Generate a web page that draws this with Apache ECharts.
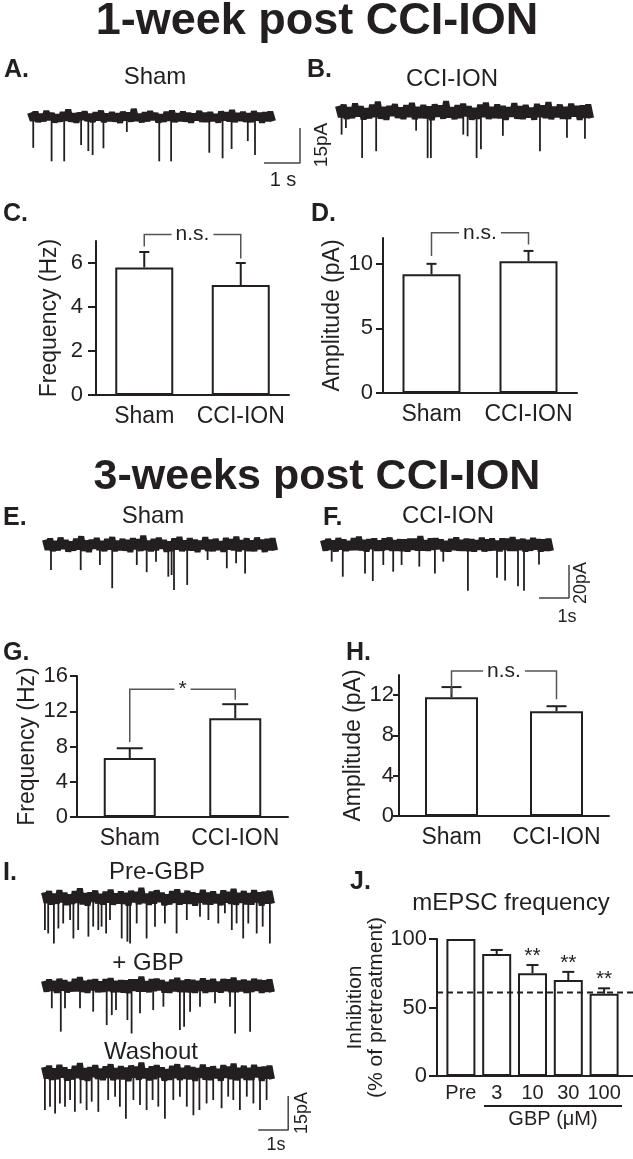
<!DOCTYPE html>
<html><head><meta charset="utf-8">
<script src="https://cdn.jsdelivr.net/npm/echarts@6/dist/echarts.min.js"></script>
<style>html,body{margin:0;padding:0;background:#fff}#c{width:633px;height:1159px}</style>
</head><body><div id="c"></div>
<script>
// ---------------- DATA ----------------
const barCats = ['Sham', 'CCI-ION'];
const freq1wMean = [5.8, 5.0];
const freq1wSem  = [0.7, 1.0];
const amp1wMean  = [9.2, 10.2];
const amp1wSem   = [0.8, 0.8];
const freq3wMean = [6.7, 11.2];
const freq3wSem  = [1.1, 1.6];
const amp3wMean  = [11.8, 10.4];
const amp3wSem   = [1.0, 0.5];
const ticksC = [0, 2, 4, 6];
const ticksD = [0, 5, 10];
const ticksG = [0, 4, 8, 12, 16];
const ticksH = [0, 4, 8, 12];
const sigC = ['n.s.', 7.3, 6.75, 6.2];   // text, bracket top, left foot, right foot
const sigD = ['n.s.', 12.4, 10.6, 11.5];
const sigG = ['*', 14.5, 8.5, 13.3];
const sigH = ['n.s.', 14.4, 12.1, 11.6];

const gbpCats = ['Pre', '3', '10', '30', '100'];
const gbpMean = [100, 89, 75, 70, 60];
const gbpSem  = [0, 3, 6, 6, 4];
const gbpSig  = ['', '', '**', '**', '**'];
const gbpRefLevel = 61;
const ticksJ = [0, 50, 100];

// spikes: [time (s), amplitude (pA)]
const spikesA = [[0.09,13.2],[0.60,19.0],[0.95,19.0],[1.42,12.0],[1.62,14.6],[1.74,16.3],[2.04,13.4],[2.69,6.4],
  [3.59,19.0],[3.92,19.0],[4.98,15.3],[5.35,17.7],[5.60,13.7],[6.05,10.3],[6.25,16.3]];
const spikesB = [[0.10,9.7],[0.22,6.9],[0.67,19.7],[1.06,16.8],[2.17,8.0],[2.49,19.7],[2.58,19.7],[3.48,9.7],
  [3.60,10.4],[3.85,19.7],[3.97,16.0],[4.58,10.2],[5.61,16.8],[6.36,11.0],[6.86,11.5]];
const spikesE = [[0.20,15.2],[1.19,15.2],[1.83,12.1],[2.24,26.2],[3.06,12.1],[3.39,16.5],[3.70,10.1],[4.11,19.2],
  [4.22,18.2],[4.30,27.3],[4.74,24.2],[5.42,9.1],[6.06,14.1],[6.37,11.1],[6.67,17.2]];
const spikesF = [[0.29,10.1],[0.66,19.2],[1.40,17.2],[1.66,21.8],[2.01,12.1],[2.34,16.2],[2.62,12.1],[3.21,13.1],
  [3.73,17.2],[4.01,10.1],[4.83,27.8],[5.80,19.9],[6.07,21.5],[6.50,25.0],[6.70,27.8],[7.20,11.8]];
const spikesPre = [[0.03,14.1],[0.14,15.6],[0.33,20.0],[0.48,13.4],[0.64,11.2],[0.87,9.7],[0.98,17.8],[1.14,14.1],
  [1.48,17.0],[1.64,12.6],[1.81,14.1],[1.92,12.6],[2.07,15.6],[2.20,9.7],[2.59,17.8],[2.78,19.2],[2.87,20.0],
  [3.09,11.2],[3.42,17.8],[3.70,12.6],[4.03,11.2],[4.42,15.6],[4.76,9.7],[5.20,8.2],[5.48,9.7],[5.81,11.2],
  [6.03,6.7],[6.26,14.1],[6.42,11.2],[6.64,17.8],[6.81,11.2],[7.09,15.6],[7.29,12.6],[7.53,20.0]];
const spikesGbp = [[0.26,9.8],[0.56,20.1],[0.70,9.8],[1.20,9.8],[1.64,11.3],[2.09,17.2],[2.26,12.8],[2.40,10.6],
  [2.78,15.0],[2.92,20.9],[3.20,12.0],[3.64,10.6],[3.98,9.1],[4.53,19.4],[4.67,17.9],[4.87,11.3],[5.20,9.1],
  [5.70,7.6],[6.20,9.1],[6.37,20.9],[6.87,20.1]];
const spikesWash = [[0.03,16.3],[0.20,14.8],[0.37,17.8],[0.53,13.4],[0.70,14.8],[0.87,11.9],[1.03,17.1],[1.22,13.4],
  [1.42,16.3],[1.59,12.6],[1.81,17.1],[2.14,11.9],[2.37,10.4],[2.53,14.8],[2.73,20.1],[2.98,11.9],[3.20,14.1],
  [3.42,16.3],[3.62,11.9],[3.81,14.8],[4.03,20.1],[4.31,11.9],[4.53,10.4],[4.76,14.8],[4.98,18.6],[5.18,16.3],
  [5.42,13.4],[5.64,11.9],[5.92,15.5],[6.14,10.4],[6.31,11.9],[6.53,16.3],[6.76,10.4],[6.98,13.4],[7.20,16.3],[7.42,11.9]];

// baseline noise (pA), evenly sampled over each trace
const noiseA = [1.8,-1.5,2.2,-2.0,1.2,-1.7,2.5,-1.1,1.6,-2.2,0.9,-1.8,2.0,-1.4,3.1,-1.9,1.4,-2.3,1.7,-1.0,
  2.3,-1.6,1.1,-2.0,1.9,-1.3,2.6,-2.1,1.3,-1.6,2.0,-1.8,1.5,-2.4,2.2,-1.2,1.8,-1.9,3.4,-1.5,
  1.2,-2.1,1.9,-1.7,2.4,-1.1,1.6,-2.2,1.0,-1.9,2.1,-1.4,2.7,-2.0,1.4,-1.6,2.2,-1.8,1.7,-2.3,
  1.3,-1.2,2.5,-1.9,1.6,-2.0,2.0,-1.5,1.1,-2.2,2.3,-1.3,1.8,-1.7,2.9,-2.1,1.5,-1.4,2.1,-1.9,
  1.4,-2.0,2.4,-1.2,1.7,-2.3,1.9,-1.6,2.2,-1.8];
const noiseB = [2.6,-2.2,3.1,-2.9,1.9,-2.5,3.6,-1.8,2.4,-3.1,1.5,-2.6,3.0,-2.1,4.4,-2.8,2.1,-3.3,2.5,-1.6,
  3.3,-2.4,1.8,-2.9,2.8,-2.0,3.8,-3.0,2.0,-2.4,2.9,-2.6,2.3,-3.4,3.2,-1.9,2.7,-2.8,4.6,-2.2,
  1.9,-3.0,2.8,-2.5,3.5,-1.7,2.4,-3.2,1.6,-2.8,3.1,-2.1,3.9,-2.9,2.1,-2.4,3.2,-2.6,2.5,-3.3,
  2.0,-1.9,3.7,-2.8,2.4,-2.9,2.9,-2.2,1.7,-3.2,3.4,-2.0,2.7,-2.5,4.2,-3.0,2.2,-2.1,3.1,-2.8,
  2.1,-2.9,3.5,-1.8,2.5,-3.3,2.8,-2.4,3.2,-2.6];
const noiseE = [3.2,-2.8,3.9,-3.6,2.3,-3.1,4.4,-2.2,3.0,-3.9,1.9,-3.3,3.7,-2.6,5.2,-3.5,2.6,-4.1,3.1,-2.0,
  4.1,-3.0,2.2,-3.6,3.5,-2.5,4.7,-3.7,2.5,-3.0,3.6,-3.3,2.9,-4.2,4.0,-2.4,3.4,-3.5,5.6,-2.8,
  2.4,-3.7,3.5,-3.1,4.3,-2.1,3.0,-4.0,2.0,-3.5,3.9,-2.6,4.8,-3.6,2.6,-3.0,4.0,-3.2,3.1,-4.1,
  2.5,-2.4,4.6,-3.5,3.0,-3.6,3.6,-2.7,2.1,-4.0,4.2,-2.5,3.4,-3.1,5.0,-3.7,2.7,-2.6,3.9,-3.5,
  2.6,-3.6,4.4,-2.3,3.1,-4.1,3.5,-3.0,4.0,-3.2];
const noiseF = [2.9,-3.3,3.6,-2.7,2.6,-3.8,4.1,-2.5,3.3,-3.5,2.2,-3.0,4.0,-2.9,4.9,-3.2,2.9,-3.8,3.4,-2.3,
  3.8,-3.4,2.5,-3.3,3.8,-2.8,4.4,-3.4,2.8,-3.3,3.3,-3.6,3.2,-3.9,3.7,-2.7,3.7,-3.2,5.3,-3.1,
  2.7,-3.4,3.8,-2.8,4.0,-2.4,3.3,-3.7,2.3,-3.8,3.6,-2.9,4.5,-3.3,2.9,-3.3,3.7,-3.5,3.4,-3.8,
  2.8,-2.7,4.3,-3.8,3.3,-3.3,3.9,-3.0,2.4,-3.7,3.9,-2.8,3.7,-3.4,4.7,-3.4,3.0,-2.9,3.6,-3.8,
  2.9,-3.3,4.1,-2.6,3.4,-3.8,3.2,-3.3,3.7,-3.5];
const noisePre = [2.5,-2.1,3.0,-2.8,1.8,-2.4,3.4,-1.7,2.3,-3.0,1.4,-2.5,2.9,-2.0,4.2,-2.7,2.0,-3.2,2.4,-1.5,
  3.2,-2.3,1.7,-2.8,2.7,-1.9,3.6,-2.9,1.9,-2.3,2.8,-2.5,2.2,-3.3,3.1,-1.8,2.6,-2.7,4.4,-2.1,
  1.8,-2.9,2.7,-2.4,3.3,-1.6,2.3,-3.1,1.5,-2.7,3.0,-2.0,3.7,-2.8,2.0,-2.3,3.1,-2.5,2.4,-3.2,
  1.9,-1.8,3.5,-2.7,2.3,-2.8,2.8,-2.1,1.6,-3.1,3.3,-1.9,2.6,-2.4,4.0,-2.9,2.1,-2.0,3.0,-2.7,
  2.0,-2.8,3.4,-1.7,2.4,-3.2,2.7,-2.3,3.1,-2.5];
const noiseGbp = [2.2,-2.4,2.8,-2.0,2.1,-2.9,3.1,-1.9,2.5,-2.7,1.7,-2.3,3.0,-2.2,3.8,-2.5,2.2,-2.9,2.6,-1.8,
  2.9,-2.6,1.9,-2.5,2.9,-2.1,3.4,-2.6,2.1,-2.5,2.5,-2.8,2.4,-3.0,2.8,-2.0,2.8,-2.4,4.1,-2.3,
  2.0,-2.6,2.9,-2.1,3.1,-1.8,2.5,-2.8,1.7,-2.9,2.7,-2.2,3.5,-2.5,2.2,-2.5,2.8,-2.7,2.6,-2.9,
  2.1,-2.0,3.3,-2.9,2.5,-2.5,3.0,-2.3,1.8,-2.8,3.0,-2.1,2.8,-2.6,3.6,-2.6,2.3,-2.2,2.7,-2.9,
  2.2,-2.5,3.1,-2.0,2.6,-2.9,2.4,-2.5,2.8,-2.7];
const noiseWash = [2.6,-2.3,3.2,-2.9,1.9,-2.6,3.5,-1.8,2.4,-3.2,1.5,-2.7,3.1,-2.1,4.3,-2.9,2.1,-3.4,2.5,-1.6,
  3.4,-2.5,1.8,-3.0,2.8,-2.0,3.8,-3.1,2.0,-2.5,2.9,-2.7,2.3,-3.5,3.2,-1.9,2.7,-2.9,4.5,-2.2,
  1.9,-3.1,2.8,-2.6,3.4,-1.7,2.4,-3.3,1.6,-2.9,3.1,-2.1,3.8,-3.0,2.1,-2.4,3.2,-2.7,2.5,-3.4,
  2.0,-1.9,3.6,-2.9,2.4,-3.0,2.9,-2.2,1.7,-3.3,3.4,-2.0,2.7,-2.6,4.1,-3.1,2.2,-2.1,3.1,-2.9,
  2.1,-3.0,3.5,-1.8,2.5,-3.4,2.8,-2.4,3.2,-2.7];

// ---------------- STYLE / LAYOUT ----------------
const FONT = "'Liberation Sans', Arial, Helvetica, sans-serif";
const INK = '#231f20';
const grids = [], xAxes = [], yAxes = [], series = [];

function addGrid(g) {
  grids.push(Object.assign({containLabel: false, outerBoundsMode: 'none'}, g));
  return grids.length - 1;
}

function barPanel(g, cats, means, sems, yMax, ticks, name, o) {
  const gi = addGrid(g);
  xAxes.push({gridIndex: gi, type: 'category', data: cats,
    axisLine: {lineStyle: {color: INK, width: 2}}, axisTick: {show: false},
    axisLabel: {color: INK, fontSize: 23, fontFamily: FONT, margin: o.xMargin, interval: 0, hideOverlap: false}});
  yAxes.push({gridIndex: gi, type: 'value', min: 0, max: yMax,
    axisLine: {show: true, lineStyle: {color: INK, width: 2}},
    axisTick: {show: true, length: o.tick, lineStyle: {color: INK, width: 2}, customValues: ticks},
    axisLabel: {color: INK, fontSize: 22, fontFamily: FONT, margin: o.yMargin, customValues: ticks},
    splitLine: {show: false},
    name: name, nameLocation: 'middle', nameGap: o.nameGap,
    nameTextStyle: {color: INK, fontSize: 23, fontFamily: FONT}});
  series.push({type: 'bar', xAxisIndex: gi, yAxisIndex: gi, data: means, barWidth: o.barW,
    itemStyle: {color: '#fff', borderColor: INK, borderWidth: 2}, silent: true, z: 2});
  series.push(errSeries(gi, means, sems, null, o.cap));
  if (o.sig) series.push(bracketSeries(gi, o.sig));
}

function errSeries(gi, means, sems, sig, cap) {
  return {type: 'custom', xAxisIndex: gi, yAxisIndex: gi, silent: true, z: 4,
    data: means.map((m, i) => [i, m, sems[i]]),
    renderItem: (p, api) => {
      const i = api.value(0), m = api.value(1), s = api.value(2);
      const kids = [];
      const a = api.coord([i, m]), b = api.coord([i, m + s]);
      if (s > 0) {
        kids.push({type: 'line', shape: {x1: a[0], y1: a[1], x2: b[0], y2: b[1]}, style: {stroke: INK, lineWidth: 2}});
        kids.push({type: 'line', shape: {x1: b[0] - cap, y1: b[1], x2: b[0] + cap, y2: b[1]}, style: {stroke: INK, lineWidth: 2}});
      }
      if (sig && sig[i]) {
        kids.push({type: 'text', x: b[0], y: b[1] - 9, style: {text: sig[i], fill: INK, font: '21px ' + FONT,
          align: 'center', verticalAlign: 'middle', textAlign: 'center', textVerticalAlign: 'middle'}});
      }
      return {type: 'group', children: kids};
    }};
}

function bracketSeries(gi, sig) {
  return {type: 'custom', xAxisIndex: gi, yAxisIndex: gi, silent: true, z: 5,
    data: [[0, sig[1], sig[2], sig[3]]],
    renderItem: (p, api) => {
      const top = api.value(1);
      const L = api.coord([0, top]), R = api.coord([1, top]);
      const Lf = api.coord([0, api.value(2)]), Rf = api.coord([1, api.value(3)]);
      return {type: 'group', children: [
        {type: 'polyline', shape: {points: [Lf, L, R, Rf]}, style: {stroke: '#555', lineWidth: 1.5, fill: null}},
        {type: 'text', x: (L[0] + R[0]) / 2, y: L[1], style: {text: sig[0], fill: INK, font: '21px ' + FONT,
          align: 'center', verticalAlign: 'middle', textAlign: 'center', textVerticalAlign: 'middle',
          backgroundColor: '#fff', padding: [0, 4]}}
      ]};
    }};
}

function tracePanel(g, xMax, yMin, yMax, dur, noise, spikes, bar) {
  const gi = addGrid(g);
  xAxes.push({gridIndex: gi, type: 'value', min: 0, max: xMax, show: false});
  yAxes.push({gridIndex: gi, type: 'value', min: yMin, max: yMax, show: false});
  series.push({type: 'line', xAxisIndex: gi, yAxisIndex: gi, symbol: 'none', silent: true, z: 3,
    data: noise.map((v, i) => [i * dur / (noise.length - 1), v]),
    lineStyle: {color: INK, width: 6, join: 'bevel', cap: 'butt'}});
  series.push({type: 'bar', xAxisIndex: gi, yAxisIndex: gi, silent: true, barWidth: 1.8, z: 2,
    data: spikes.map(s => [s[0], -s[1]]), itemStyle: {color: INK}});
  if (bar) {
    series.push({type: 'line', xAxisIndex: gi, yAxisIndex: gi, symbol: 'none', silent: true, clip: false,
      data: [[bar[0], bar[2]], [bar[0] + bar[1], bar[2]], [bar[0] + bar[1], bar[2] + bar[3]]],
      lineStyle: {color: '#444', width: 1.5}});
  }
}

// ---- bar panels
barPanel({left: 96, top: 241, width: 193, height: 154}, barCats, freq1wMean, freq1wSem, 7, ticksC, 'Frequency (Hz)',
  {xMargin: 10, yMargin: 13, tick: 8, nameGap: 35, barW: 58, cap: 5, sig: sigC});
barPanel({left: 383, top: 238, width: 194, height: 155}, barCats, amp1wMean, amp1wSem, 12, ticksD, 'Amplitude (pA)',
  {xMargin: 10, yMargin: 10, tick: 7, nameGap: 35, barW: 58, cap: 5, sig: sigD});
barPanel({left: 77, top: 676, width: 211, height: 141}, barCats, freq3wMean, freq3wSem, 16, ticksG, 'Frequency (Hz)',
  {xMargin: 10, yMargin: 9, tick: 7, nameGap: 33, barW: 52, cap: 13, sig: sigG});
barPanel({left: 399, top: 675, width: 210, height: 141}, barCats, amp3wMean, amp3wSem, 14, ticksH, 'Amplitude (pA)',
  {xMargin: 10, yMargin: 5, tick: 6, nameGap: 31, barW: 53, cap: 10, sig: sigH});

// ---- panel J: frame grid + bar grid
const gJ1 = addGrid({left: 437, top: 939, width: 196, height: 137});
xAxes.push({gridIndex: gJ1, type: 'value', min: 0, max: 1, axisLine: {show: true, lineStyle: {color: INK, width: 2}},
  axisTick: {show: false}, axisLabel: {show: false}, splitLine: {show: false}});
yAxes.push({gridIndex: gJ1, type: 'value', min: 0, max: 100,
  axisLine: {show: true, lineStyle: {color: INK, width: 2}},
  axisTick: {show: true, length: 8, lineStyle: {color: INK, width: 2}, customValues: ticksJ},
  axisLabel: {color: INK, fontSize: 22, fontFamily: FONT, margin: 10, customValues: ticksJ},
  splitLine: {show: false},
  name: 'Inhibition\n(% of pretreatment)', nameLocation: 'middle', nameGap: 50,
  nameTextStyle: {color: INK, fontSize: 21, lineHeight: 21, fontFamily: FONT, align: 'center'}});
series.push({type: 'line', xAxisIndex: gJ1, yAxisIndex: gJ1, symbol: 'none', silent: true, z: 10, clip: false,
  data: [[0, gbpRefLevel], [1, gbpRefLevel]], lineStyle: {color: INK, width: 2, type: [6, 4]}});
const gJ2 = addGrid({left: 443, top: 939, width: 179, height: 137});
xAxes.push({gridIndex: gJ2, type: 'category', data: gbpCats, axisLine: {show: false}, axisTick: {show: false},
  axisLabel: {color: INK, fontSize: 20, fontFamily: FONT, margin: 7, interval: 0, hideOverlap: false}});
yAxes.push({gridIndex: gJ2, type: 'value', min: 0, max: 100, show: false});
series.push({type: 'bar', xAxisIndex: gJ2, yAxisIndex: gJ2, data: gbpMean, barWidth: 29, silent: true, z: 2,
  itemStyle: {color: '#fff', borderColor: INK, borderWidth: 2}});
series.push(errSeries(gJ2, gbpMean, gbpSem, gbpSig, 6));

// ---- traces
tracePanel({left: 30, top: 103, width: 273.6, height: 70}, 7.6, -24, 6, 6.75, noiseA, spikesA, [6.5, 1, -19.7, 15]);
tracePanel({left: 338, top: 98, width: 255.6, height: 70}, 7.1, -24, 6, 7.03, noiseB, spikesB, null);
tracePanel({left: 45, top: 531.8, width: 231, height: 69.3}, 7.7, -34, 8, 7.67, noiseE, spikesE, null);
tracePanel({left: 323, top: 531.8, width: 249, height: 72.6}, 8.3, -36, 8, 7.6, noiseF, spikesF, [7.2, 1, -32.1, 20]);
tracePanel({left: 44, top: 884.4, width: 246, height: 77.2}, 8.2, -28, 6, 7.6, noisePre, spikesPre, null);
tracePanel({left: 44, top: 972.4, width: 246, height: 77.2}, 8.2, -28, 6, 7.6, noiseGbp, spikesGbp, null);
tracePanel({left: 44, top: 1059.4, width: 246, height: 77.2}, 8.2, -28, 6, 7.6, noiseWash, spikesWash, [7.14, 1, -25.1, 15]);

// ---- texts
function txt(x, y, text, size, opts) {
  opts = opts || {};
  return {type: 'text', x: x, y: y, rotation: opts.rot || 0, silent: true, z: 20,
    style: {text: text, fill: INK, font: (opts.bold ? 'bold ' : '') + size + 'px ' + FONT,
      textAlign: opts.align || 'center', textVerticalAlign: 'middle', align: opts.align || 'center', verticalAlign: 'middle'}};
}
const graphics = [
  txt(317, 22, '1-week post CCI-ION', 45, {bold: true}),
  txt(317, 477, '3-weeks post CCI-ION', 43, {bold: true}),
  txt(4, 70, 'A.', 25, {bold: true, align: 'left'}),
  txt(307, 70, 'B.', 25, {bold: true, align: 'left'}),
  txt(3, 214, 'C.', 25, {bold: true, align: 'left'}),
  txt(311, 214, 'D.', 25, {bold: true, align: 'left'}),
  txt(3, 518, 'E.', 25, {bold: true, align: 'left'}),
  txt(323, 518, 'F.', 25, {bold: true, align: 'left'}),
  txt(3, 653, 'G.', 25, {bold: true, align: 'left'}),
  txt(346, 653, 'H.', 25, {bold: true, align: 'left'}),
  txt(3, 873, 'I.', 25, {bold: true, align: 'left'}),
  txt(350, 882, 'J.', 25, {bold: true, align: 'left'}),
  txt(155, 77, 'Sham', 24),
  txt(452, 79, 'CCI-ION', 24),
  txt(153, 516, 'Sham', 24),
  txt(448, 516, 'CCI-ION', 24),
  txt(157, 872, 'Pre-GBP', 24),
  txt(148, 963, '+ GBP', 24),
  txt(151, 1052, 'Washout', 24),
  txt(283, 180, '1 s', 20),
  txt(322, 145, '15pA', 19, {rot: Math.PI / 2}),
  txt(581, 583, '20pA', 18, {rot: Math.PI / 2}),
  txt(567, 617, '1s', 18),
  txt(302, 1113, '15pA', 18, {rot: Math.PI / 2}),
  txt(276, 1145, '1s', 18),
  txt(511, 903, 'mEPSC frequency', 24),
  txt(553, 1119, 'GBP (\u03bcM)', 20),
  {type: 'line', silent: true, shape: {x1: 484, y1: 1106, x2: 622, y2: 1106}, style: {stroke: INK, lineWidth: 2}}
];

const chart = echarts.init(document.getElementById('c'), null, {renderer: 'canvas'});
chart.setOption({
  animation: false,
  backgroundColor: '#fff',
  textStyle: {fontFamily: FONT, color: INK},
  grid: grids, xAxis: xAxes, yAxis: yAxes, series: series,
  graphic: graphics
});
</script></body></html>
